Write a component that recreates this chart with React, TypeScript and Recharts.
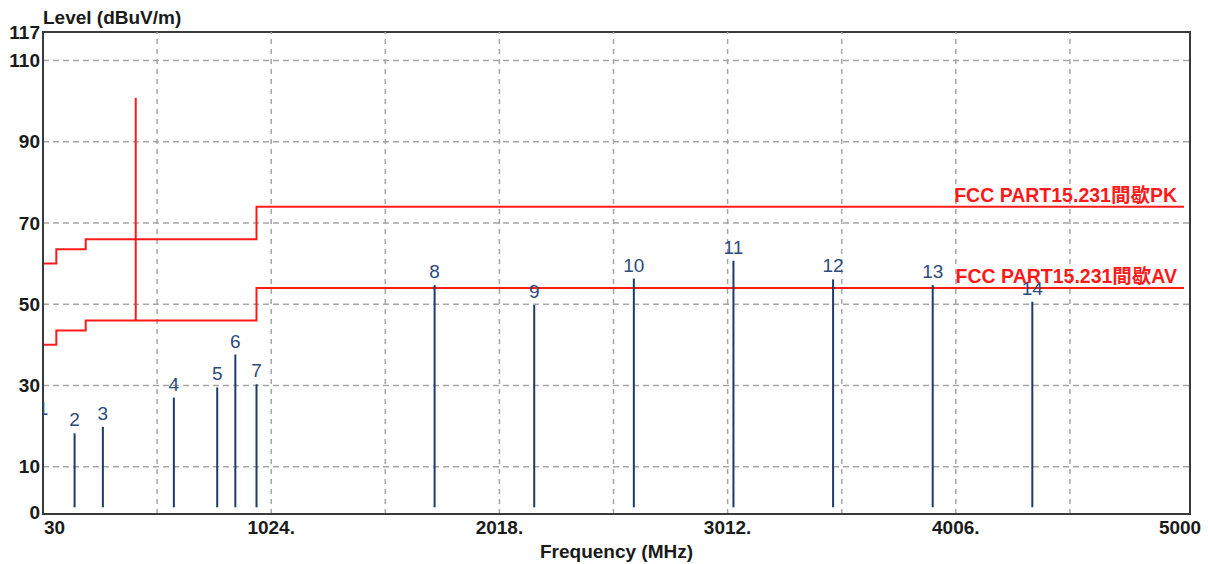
import { ComposedChart, Line, Scatter, XAxis, YAxis, ReferenceLine, ReferenceArea } from "recharts";

const freqTicks = [30, 1024, 2018, 3012, 4006, 5000];
const freqTickLabels = ["30", "1024.", "2018.", "3012.", "4006.", "5000"];
const levelTicks = [0, 10, 30, 50, 70, 90, 110, 117];
const gridFreqs = [527, 1024, 1521, 2018, 2515, 3012, 3509, 4006, 4503];
const gridLevels = [10, 30, 50, 70, 90, 110];

// FCC limit lines (step after each frequency)
const limitFreqs = [30, 88, 216, 960, 5000];
const pkLimit = [60, 63.5, 66, 74, 74];
const avLimit = [40, 43.5, 46, 54, 54];
const spikeFreq = 433.92;
const spikeLevels = [46, 100.8];

// measured peaks
const markerNo = [1, 2, 3, 4, 5, 6, 7, 8, 9, 10, 11, 12, 13, 14];
const markerFreq = [30, 167.6, 290.8, 600, 788.8, 867.8, 960, 1735.7, 2169.6, 2603.5, 3037.4, 3471.4, 3905.3, 4339.2];
const markerLevel = [21, 18.2, 19.8, 27.0, 29.5, 37.6, 30.3, 54.7, 49.8, 56.3, 60.7, 56.1, 54.7, 50.6];

const X_MIN = 30;
const X_MAX = 5026;
const Y_MIN = -1.65;
const Y_MAX = 117;

const pkData = limitFreqs.map((f, i) => ({ f, v: pkLimit[i] }));
const avData = limitFreqs.map((f, i) => ({ f, v: avLimit[i] }));
const spikeData = spikeLevels.map((v) => ({ f: spikeFreq, v }));
const markers = markerNo.map((n, i) => ({ n, f: markerFreq[i], v: markerLevel[i] }));

const FONT = "'Liberation Sans', Arial, 'Noto Sans CJK TC', sans-serif";
const TEXT = "#1a1a1a";
const STEM = "#1d3c6a";
const RED = "#ff1a1a";

const XTick = (props: any) => {
  const { x, y, payload, index } = props;
  const first = index === 0;
  const last = index === freqTicks.length - 1;
  return (
    <text
      x={first ? x + 1 : last ? x - 4 : x}
      y={y}
      dy="0.71em"
      textAnchor={first ? "start" : "middle"}
      fontFamily={FONT}
      fontSize={19}
      fontWeight="bold"
      fill={TEXT}
    >
      {freqTickLabels[freqTicks.indexOf(payload.value)]}
    </text>
  );
};

const YTick = (props: any) => {
  const { x, y, payload } = props;
  return (
    <text
      x={x}
      y={payload.value === 0 ? y + 5 : y}
      dy="0.355em"
      textAnchor="end"
      fontFamily={FONT}
      fontSize={19}
      fontWeight="bold"
      fill={TEXT}
    >
      {payload.value}
    </text>
  );
};

const markerLabel = (props: any) => {
  const { cx, cy, payload } = props;
  return (
    <text x={cx} y={cy - 7} textAnchor="middle" fontFamily={FONT} fontSize={19} fill="#2c4a7c">
      {payload.n}
    </text>
  );
};

const limitLabel = (text: string, count: number) => (props: any) => {
  const { x, y, index } = props;
  if (index !== count - 1) return null;
  return (
    <text x={x - 7} y={y - 5} textAnchor="end" fontFamily={FONT} fontSize={19.5} fontWeight="bold" fill={RED}>
      {text}
    </text>
  );
};

export default function App() {
  return (
    <div style={{ position: "absolute", left: 0, top: 0, background: "#fff" }}>
      <ComposedChart width={1208} height={564} margin={{ top: 32, right: 18, bottom: 20, left: 0 }}>
        <XAxis
          dataKey="f"
          type="number"
          domain={[X_MIN, X_MAX]}
          ticks={freqTicks}
          interval={0}
          tickLine={false}
          tickSize={0}
          tickMargin={7}
          height={30}
          axisLine={{ stroke: "#3a3a3a", strokeWidth: 2 }}
          tick={<XTick />}
          allowDataOverflow
          label={{
            content: (p: any) => {
              const vb = p.viewBox;
              return (
                <text x={vb.x + vb.width / 2} y={vb.y + 44} textAnchor="middle" fontFamily={FONT} fontSize={19} fontWeight="bold" fill={TEXT}>
                  Frequency (MHz)
                </text>
              );
            },
          }}
        />
        <YAxis
          dataKey="v"
          type="number"
          domain={[Y_MIN, Y_MAX]}
          ticks={levelTicks}
          interval={0}
          tickLine={false}
          tickSize={0}
          tickMargin={3}
          width={43}
          axisLine={{ stroke: "#3a3a3a", strokeWidth: 2 }}
          tick={<YTick />}
          allowDataOverflow
          label={{
            content: (p: any) => {
              const vb = p.viewBox;
              return (
                <text x={vb.x + vb.width} y={vb.y - 8} textAnchor="start" fontFamily={FONT} fontSize={19} fontWeight="bold" fill={TEXT}>
                  Level (dBuV/m)
                </text>
              );
            },
          }}
        />
        {gridLevels.map((l) => (
          <ReferenceLine key={"h" + l} y={l} stroke="#a6a6a6" strokeWidth={1.5} strokeDasharray="6 4" />
        ))}
        {gridFreqs.map((f) => (
          <ReferenceLine key={"v" + f} x={f} stroke="#a6a6a6" strokeWidth={1.5} strokeDasharray="5 5" />
        ))}
        <Line
          data={pkData}
          dataKey="v"
          type="stepAfter"
          stroke={RED}
          strokeWidth={2}
          dot={false}
          isAnimationActive={false}
          label={limitLabel("FCC PART15.231間歇PK", pkData.length)}
        />
        <Line
          data={avData}
          dataKey="v"
          type="stepAfter"
          stroke={RED}
          strokeWidth={2}
          dot={false}
          isAnimationActive={false}
          label={limitLabel("FCC PART15.231間歇AV", avData.length)}
        />
        <Line data={spikeData} dataKey="v" type="linear" stroke={RED} strokeWidth={2} dot={false} isAnimationActive={false} />
        {markers.map((m) => (
          <ReferenceLine
            key={"m" + m.n}
            segment={[
              { x: m.f, y: 0 },
              { x: m.f, y: m.v },
            ]}
            stroke={STEM}
            strokeWidth={2}
          />
        ))}
        <Scatter data={markers} dataKey="v" shape={markerLabel} isAnimationActive={false} />
        <ReferenceArea x1={X_MIN} x2={X_MAX} y1={Y_MIN} y2={Y_MAX} fill="none" stroke="#3a3a3a" strokeWidth={2} />
      </ComposedChart>
    </div>
  );
}
